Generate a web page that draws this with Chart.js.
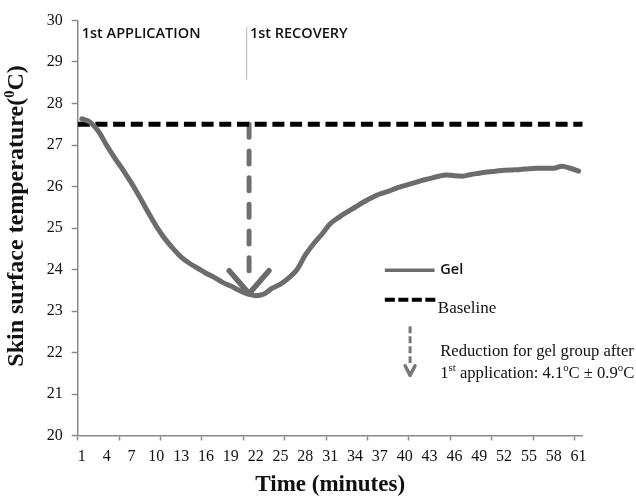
<!DOCTYPE html>
<html>
<head>
<meta charset="utf-8">
<script src="https://cdn.jsdelivr.net/npm/chart.js@4.4.0/dist/chart.umd.min.js"></script>
<style>
html,body{margin:0;padding:0;background:#fff;}
#wrap{width:636px;height:497px;}
</style>
</head>
<body>
<div id="wrap"><canvas id="c" width="636" height="497"></canvas></div>
<script>
// ---- data ----
const minutes = Array.from({length: 61}, (_, i) => i + 1);
const gelTemp = [27.63,27.55,27.33,26.99,26.68,26.39,26.08,25.74,25.38,25.04,
                 24.75,24.51,24.30,24.15,24.03,23.91,23.81,23.69,23.60,23.50,
                 23.41,23.37,23.41,23.55,23.65,23.80,24.00,24.35,24.62,24.85,
                 25.10,25.25,25.38,25.50,25.62,25.73,25.82,25.88,25.96,26.02,
                 26.08,26.14,26.19,26.24,26.28,26.26,26.25,26.29,26.32,26.35,
                 26.37,26.39,26.40,26.41,26.43,26.44,26.44,26.44,26.49,26.44,26.37];
const baselineTemp = 27.5;
const baselineSpan = [0.5, 61.5];
const yTicks = [20,21,22,23,24,25,26,27,28,29,30];
const xLabelTicks = [1,4,7,10,13,16,19,22,25,28,31,34,37,40,43,46,49,52,55,58,61];
const xMarkTicks = [0.5,5.5,10.5,15.5,20.5,25.5,30.5,35.5,40.5,45.5,50.5,55.5,60.5];
const reductionMinute = 21.2;
const reductionFrom = 27.5, reductionTo = 23.82;
const arrowHead = [{x:18.8,y:23.97},{x:21.2,y:23.42},{x:23.6,y:23.97}];
const phaseMinute = 20.9;
const phaseSpan = [29.84, 28.58];
const phaseLabels = ['1st APPLICATION', '1st RECOVERY'];
const yTitle = ['Skin surface temperature(', '0', 'C)'];
const xTitle = 'Time (minutes)';

const GEL = '#6c6c6c';
const AXIS = '#8a8a8a';

const allXTicks = [...xMarkTicks, ...xLabelTicks].sort((a,b)=>a-b);

const annotate = {
  id: 'annotate',
  afterDatasetsDraw(chart) {
    const c = chart.ctx, X = v => chart.scales.x.getPixelForValue(v), Y = v => chart.scales.y.getPixelForValue(v);
    c.save();
    // phase labels
    c.fillStyle = '#111';
    c.font = '600 14.5px "Open Sans"';
    c.textBaseline = 'middle';
    c.textAlign = 'left';
    c.fillText(phaseLabels[0], X(0.99), Y(29.68));
    c.fillText(phaseLabels[1], X(21.3), Y(29.68));

    // legend: Gel
    c.strokeStyle = GEL; c.lineWidth = 3.5; c.setLineDash([]);
    c.beginPath(); c.moveTo(X(37.6), Y(23.98)); c.lineTo(X(43.6), Y(23.98)); c.stroke();
    c.fillStyle = '#111';
    c.font = '600 14.5px "Open Sans"';
    c.fillText('Gel', X(44.3), Y(24.0));
    // legend: Baseline
    c.strokeStyle = '#000'; c.lineWidth = 4; c.setLineDash([10,3.5]);
    c.beginPath(); c.moveTo(X(37.6), Y(23.27)); c.lineTo(X(43.9), Y(23.27)); c.stroke();
    c.setLineDash([]);
    c.font = '17px "Liberation Serif"';
    c.fillText('Baseline', X(44.0), Y(23.07));
    // small arrow
    c.strokeStyle = '#777'; c.lineWidth = 3; c.setLineDash([7,3]);
    c.beginPath(); c.moveTo(X(40.65), Y(22.63)); c.lineTo(X(40.65), Y(21.75)); c.stroke();
    c.setLineDash([]); c.lineWidth = 3.5; c.lineJoin = 'round'; c.lineCap = 'round';
    c.beginPath(); c.moveTo(X(40.05), Y(21.68)); c.lineTo(X(40.65), Y(21.45)); c.lineTo(X(41.25), Y(21.68)); c.stroke();
    // reduction text
    c.fillStyle = '#111';
    const body = '16.6px "Liberation Serif"', sups = '10.8px "Liberation Serif"';
    c.font = body;
    const tx = X(44.3);
    c.fillText('Reduction for gel group after', tx, Y(22.02));
    const y2 = Y(21.50);
    const parts = [['1',0],['st',1],[' application: 4.1',0],['o',1],['C \u00b1 0.9',0],['o',1],['C',0]];
    let cx = tx;
    for (const [t, sup] of parts) {
      c.font = sup ? sups : body;
      c.fillText(t, cx, sup ? y2 - 5 : y2);
      cx += c.measureText(t).width;
    }
    // y title
    c.save();
    c.translate(16.5, 216);
    c.rotate(-Math.PI/2);
    const big = 'bold 24px "Liberation Serif"', small = 'bold 14.5px "Liberation Serif"';
    c.font = big; const w0 = c.measureText(yTitle[0]).width, w2 = c.measureText(yTitle[2]).width;
    c.font = small; const w1 = c.measureText(yTitle[1]).width;
    let sx = -(w0 + w1 + w2)/2;
    c.fillStyle = '#111';
    c.font = big; c.fillText(yTitle[0], sx, 0); sx += w0;
    c.font = small; c.fillText(yTitle[1], sx, -6); sx += w1;
    c.font = big; c.fillText(yTitle[2], sx, 0);
    c.restore();
    c.restore();
  }
};

new Chart(document.getElementById('c'), {
  type: 'line',
  data: {
    datasets: [
      { label: 'Phase divider', data: phaseSpan.map(v => ({x: phaseMinute, y: v})),
        borderColor: '#c4c4c4', borderWidth: 1, pointRadius: 0 },
      { label: 'Gel', data: minutes.map((m, i) => ({x: m, y: gelTemp[i]})),
        borderColor: GEL, borderWidth: 5, pointRadius: 0, cubicInterpolationMode: 'monotone',
        borderCapStyle: 'round', borderJoinStyle: 'round' },
      { label: 'Baseline', data: baselineSpan.map(m => ({x: m, y: baselineTemp})),
        borderColor: '#000', borderWidth: 5, borderDash: [12, 5.7], pointRadius: 0 },
      { label: 'Reduction', data: [{x: reductionMinute, y: reductionFrom}, {x: reductionMinute, y: reductionTo}],
        borderColor: '#707070', borderWidth: 5, borderDash: [13, 13.7], borderCapStyle: 'round', pointRadius: 0 },
      { label: 'Arrowhead', data: arrowHead,
        borderColor: '#6a6a6a', borderWidth: 5.5, borderCapStyle: 'round', borderJoinStyle: 'round', pointRadius: 0 }
    ]
  },
  options: {
    responsive: false,
    animation: false,
    events: [],
    layout: { padding: { left: 0, right: 53.3, top: 20.5, bottom: 0 } },
    plugins: { legend: { display: false }, tooltip: { enabled: false } },
    scales: {
      x: {
        type: 'linear', min: 0.5, max: 61.5,
        afterBuildTicks: ax => { ax.ticks = allXTicks.map(v => ({value: v})); },
        afterFit: s => { s.height = 61.5; },
        ticks: {
          autoSkip: false, maxRotation: 0, minRotation: 0, padding: 6.5, color: '#111',
          font: { family: 'Liberation Serif', size: 16 },
          callback: v => xLabelTicks.includes(v) ? String(v) : ''
        },
        grid: {
          drawOnChartArea: false, tickLength: 5, tickWidth: 1.5,
          tickColor: ctx => (ctx.tick && xMarkTicks.includes(ctx.tick.value)) ? AXIS : 'rgba(0,0,0,0)'
        },
        border: { color: AXIS, width: 1.5 },
        title: { display: true, text: xTitle, color: '#111',
                 font: { family: 'Liberation Serif', size: 23, weight: 'bold', lineHeight: 1 },
                 padding: { top: 0, bottom: 0.5 } }
      },
      y: {
        min: 20, max: 30,
        afterBuildTicks: ax => { ax.ticks = yTicks.map(v => ({value: v})); },
        afterFit: s => { s.width = 77.7; },
        ticks: { padding: 9, color: '#111', font: { family: 'Liberation Serif', size: 16 } },
        grid: { drawOnChartArea: false, tickLength: 6, tickWidth: 1.5, tickColor: AXIS },
        border: { color: AXIS, width: 1.5 }
      }
    }
  },
  plugins: [annotate]
});
</script>
</body>
</html>
